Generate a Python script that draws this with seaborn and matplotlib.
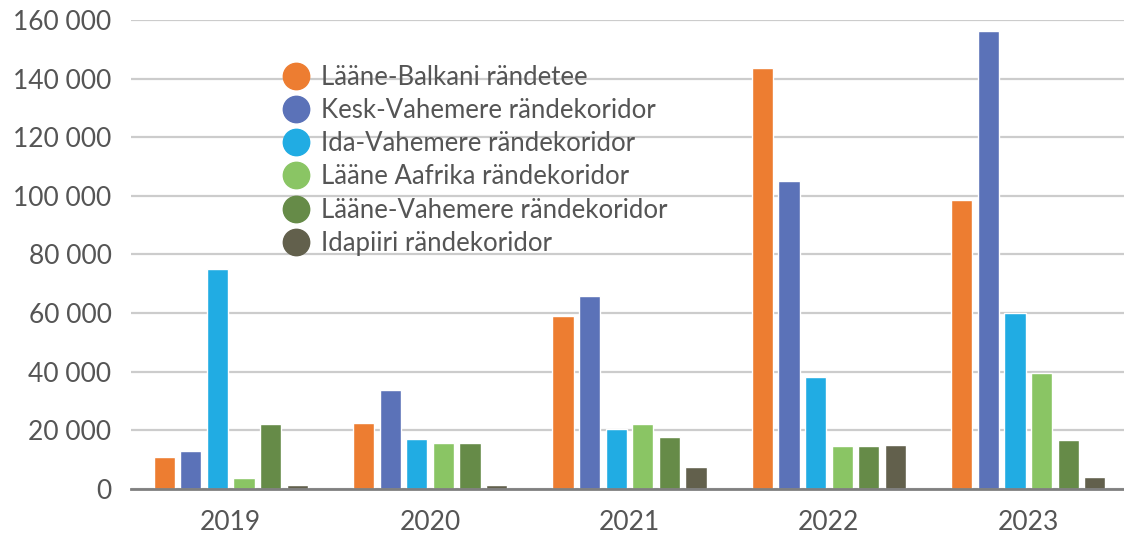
import pandas as pd
import matplotlib.pyplot as plt
import seaborn as sns
from matplotlib.lines import Line2D
from matplotlib.ticker import FuncFormatter

# aastad ja rändeteed
aastad = ['2019', '2020', '2021', '2022', '2023']
teed = ['Lääne-Balkani rändetee', 'Kesk-Vahemere rändekoridor', 'Ida-Vahemere rändekoridor',
        'Lääne Aafrika rändekoridor', 'Lääne-Vahemere rändekoridor', 'Idapiiri rändekoridor']
varvid = ['#ED7D31', '#5B72B8', '#21ACE3', '#8AC564', '#668B48', '#62604C']

# väärtused (loetud pildilt)
laane_balkan = [11000, 22500, 59000, 143700, 98600]
kesk_vahemeri = [13000, 33800, 65900, 105100, 156300]
ida_vahemeri = [75100, 17100, 20500, 38200, 60100]
laane_aafrika = [3800, 15700, 22200, 14700, 39600]
laane_vahemeri = [22200, 15700, 17700, 14700, 16700]
idapiir = [1400, 1400, 7500, 15000, 4100]

seeriad = [laane_balkan, kesk_vahemeri, ida_vahemeri, laane_aafrika, laane_vahemeri, idapiir]
read = []
for tee, vals in zip(teed, seeriad):
    for aasta, v in zip(aastad, vals):
        read.append({'aasta': aasta, 'tee': tee, 'arv': v})
df = pd.DataFrame(read)

sns.set_theme(style='white')
plt.rcParams['font.family'] = ['Lato', 'DejaVu Sans']
tekst = '#555555'

fig = plt.figure(figsize=(11.24, 5.38), dpi=100)
ax = fig.add_axes([131 / 1124, 49 / 538, 993 / 1124, 469 / 538])

sns.barplot(data=df, x='aasta', y='arv', hue='tee', hue_order=teed, order=aastad,
            palette=varvid, width=0.8, gap=0.2, saturation=1, ax=ax, legend=False)

ax.set_ylim(0, 160000)
ax.set_xlim(-0.5, 4.48)
ax.set_yticks(range(0, 160001, 20000))
ax.yaxis.set_major_formatter(FuncFormatter(lambda v, p: f'{int(v):,}'.replace(',', ' ')))
ax.grid(axis='y', color='#cccccc', linewidth=1.6)
ax.set_axisbelow(True)
for s in ['top', 'right', 'left']:
    ax.spines[s].set_visible(False)
ax.spines['bottom'].set_color('#7f7f7f')
ax.spines['bottom'].set_linewidth(2)
ax.set_xlabel('')
ax.set_ylabel('')
ax.tick_params(axis='y', length=0, pad=14, labelsize=19, labelcolor=tekst)
ax.tick_params(axis='x', length=0, pad=15, labelsize=19, labelcolor=tekst)
ax.set_xticks([0.5, 1.5, 2.5, 3.5], minor=True)
ax.tick_params(axis='x', which='minor', direction='in', length=12, width=1.5, color='#7f7f7f')

kaepidemed = [Line2D([0], [0], marker='o', linestyle='', markersize=19,
                     markerfacecolor=c, markeredgecolor=c) for c in varvid]
leg = ax.legend(kaepidemed, teed, loc='upper left', bbox_to_anchor=(0.138, 0.932),
                frameon=False, fontsize=18.5, labelspacing=0.32, handletextpad=0.38,
                handlelength=1.2, borderpad=0)
for t in leg.get_texts():
    t.set_color(tekst)

fig.savefig('out.png', dpi=100)
